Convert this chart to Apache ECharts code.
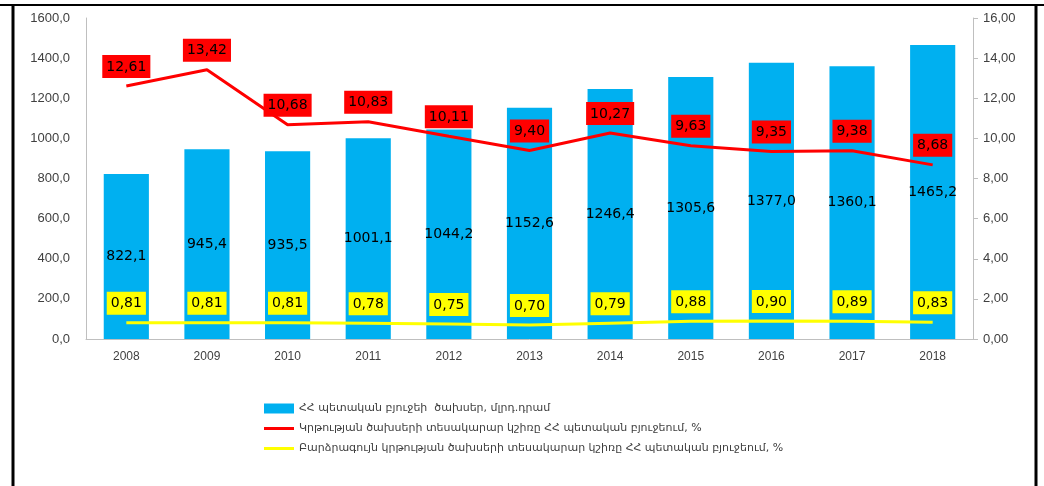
<!DOCTYPE html>
<html>
<head>
<meta charset="utf-8">
<script src="https://cdn.jsdelivr.net/npm/echarts@6/dist/echarts.min.js"></script>
<style>
  html, body { margin: 0; padding: 0; background: #fff; }
  #chart { width: 1044px; height: 486px; }
</style>
</head>
<body>
<div id="chart"></div>
<script>
// տարիներ
const years = ['2008', '2009', '2010', '2011', '2012', '2013', '2014', '2015', '2016', '2017', '2018'];
// ՀՀ պետական բյուջեի ծախսեր, մլրդ.դրամ
const budget = [822.1, 945.4, 935.5, 1001.1, 1044.2, 1152.6, 1246.4, 1305.6, 1377.0, 1360.1, 1465.2];
// կրթության ծախսերի կշիռը, %
const eduShare = [12.61, 13.42, 10.68, 10.83, 10.11, 9.40, 10.27, 9.63, 9.35, 9.38, 8.68];
// բարձրագույն կրթության ծախսերի կշիռը, %
const higherShare = [0.81, 0.81, 0.81, 0.78, 0.75, 0.70, 0.79, 0.88, 0.90, 0.89, 0.83];

const names = [
  'ՀՀ պետական բյուջեի  ծախսեր, մլրդ.դրամ',
  'Կրթության ծախսերի տեսակարար կշիռը ՀՀ պետական բյուջեում, %',
  'Բարձրագույն կրթության ծախսերի տեսակարար կշիռը ՀՀ պետական բյուջեում, %'
];

const comma = (v, d) => v.toFixed(d).replace('.', ',');
const labelFont = 'DejaVu Sans, sans-serif';
const lineIcon = 'path://M0,0H30V3H0Z';

const chart = echarts.init(document.getElementById('chart'));
chart.setOption({
  animation: false,
  textStyle: { fontFamily: 'Liberation Sans, sans-serif' },
  grid: { left: 86, right: 71, top: 18, bottom: 147 },
  legend: {
    orient: 'vertical',
    left: 259,
    top: 398,
    itemWidth: 30,
    itemHeight: 10,
    itemGap: 9,
    textStyle: { fontFamily: labelFont, fontSize: 11, color: '#404040' },
    data: [
      { name: names[0], icon: 'rect' },
      { name: names[1], icon: lineIcon },
      { name: names[2], icon: lineIcon }
    ]
  },
  xAxis: {
    type: 'category',
    data: years,
    axisLine: { lineStyle: { color: '#bfbfbf', width: 1 } },
    axisTick: { show: false },
    axisLabel: { color: '#404040', fontSize: 12, margin: 12 }
  },
  yAxis: [
    {
      type: 'value',
      min: 0, max: 1600, interval: 200,
      axisLine: { show: true, lineStyle: { color: '#bfbfbf' } },
      axisTick: { show: false },
      splitLine: { show: false },
      axisLabel: { color: '#404040', fontSize: 13, margin: 16, formatter: v => comma(v, 1) }
    },
    {
      type: 'value',
      min: 0, max: 16, interval: 2,
      axisLine: { show: true, lineStyle: { color: '#bfbfbf' } },
      axisTick: { show: true, length: 5, lineStyle: { color: '#bfbfbf' } },
      splitLine: { show: false },
      axisLabel: { color: '#404040', fontSize: 13, margin: 10, formatter: v => comma(v, 2) }
    }
  ],
  series: [
    {
      name: names[0],
      type: 'bar',
      data: budget,
      barWidth: '56%',
      itemStyle: { color: '#00b0f0' },
      label: {
        show: true,
        position: 'inside',
        color: '#000',
        fontFamily: labelFont,
        fontSize: 14,
        formatter: p => comma(p.value, 1)
      },
      z: 2
    },
    {
      name: names[1],
      type: 'line',
      yAxisIndex: 1,
      data: eduShare,
      symbol: 'circle',
      symbolSize: 0,
      showAllSymbol: true,
      lineStyle: { color: '#ff0000', width: 3 },
      itemStyle: { color: '#ff0000' },
      label: {
        show: true,
        position: 'top',
        distance: 8,
        color: '#000',
        backgroundColor: '#ff0000',
        padding: [5, 4, 4, 4],
        fontFamily: labelFont,
        fontSize: 14,
        formatter: p => comma(p.value, 2)
      },
      z: 4
    },
    {
      name: names[2],
      type: 'line',
      yAxisIndex: 1,
      data: higherShare,
      symbol: 'circle',
      symbolSize: 0,
      showAllSymbol: true,
      lineStyle: { color: '#ffff00', width: 3 },
      itemStyle: { color: '#ffff00' },
      label: {
        show: true,
        position: 'top',
        distance: 8,
        color: '#000',
        backgroundColor: '#ffff00',
        padding: [5, 4, 4, 4],
        fontFamily: labelFont,
        fontSize: 14,
        formatter: p => comma(p.value, 2)
      },
      z: 3
    }
  ],
  graphic: [
    { type: 'line', shape: { x1: 0, y1: 5, x2: 1044, y2: 5 }, style: { stroke: '#000', lineWidth: 2 } },
    { type: 'line', shape: { x1: 13, y1: 5, x2: 13, y2: 486 }, style: { stroke: '#000', lineWidth: 3 } },
    { type: 'line', shape: { x1: 1036, y1: 5, x2: 1036, y2: 486 }, style: { stroke: '#000', lineWidth: 3 } }
  ]
});
</script>
</body>
</html>
